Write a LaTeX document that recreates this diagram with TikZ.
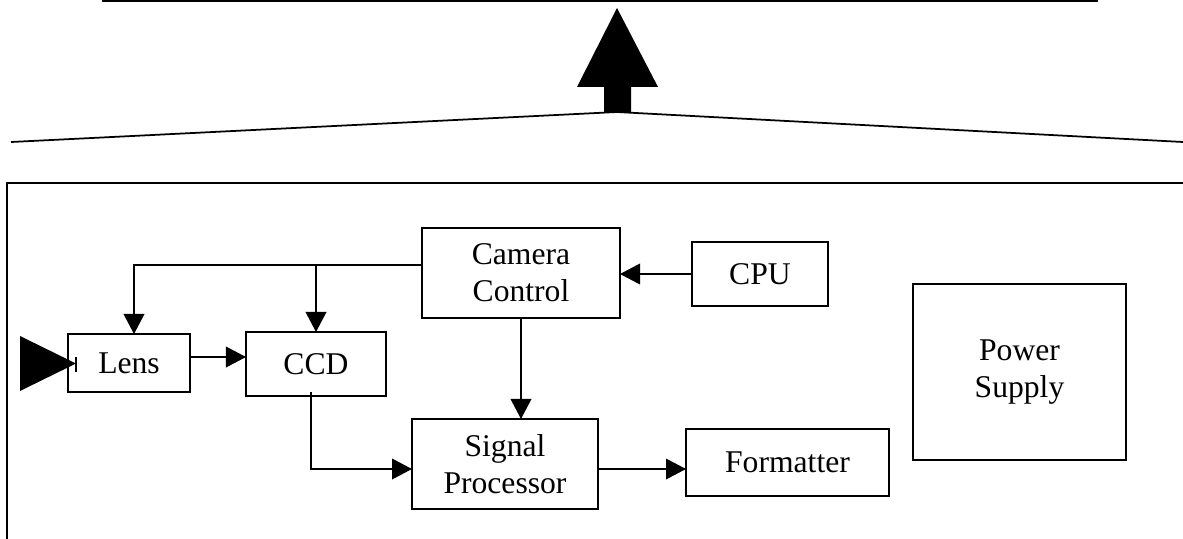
\documentclass[tikz,border=0pt]{standalone}
\usepackage{fontspec}
\setmainfont{Liberation Serif}
\usetikzlibrary{arrows.meta}
\newcommand{\blockfont}{\fontsize{27}{31.5}\selectfont}
\tikzset{
  block/.style={draw, line width=1.3pt, inner sep=0pt, outer sep=0pt, align=center, font=\blockfont},
  feed/.style={line width=1.2pt, -{Triangle[length=0.6cm,width=0.62cm]}}
}
\begin{document}
\begin{tikzpicture}[x=0.03cm, y=-0.03cm]
\useasboundingbox (0,0) rectangle (1183,539);
% Roof and upward arrow
\draw[line width=1.5pt] (102,1) -- (1098,1);
\fill (617,8) -- (658,87) -- (631,87) -- (631,112) -- (604,112) -- (604,87) -- (577,87) -- cycle;
\draw[line width=1.5pt] (11,142) -- (617,112) -- (1183,142);
% Enclosure
\draw[line width=1.3pt] (7,539) -- (7,183) -- (1183,183);
% Blocks
\node[block, minimum width=3.66cm, minimum height=1.74cm] (lens) at (129,363) {Lens};
\node[block, minimum width=4.2cm, minimum height=1.92cm] (ccd) at (316,364) {CCD};
\node[block, minimum width=5.94cm, minimum height=2.7cm] (cam) at (521,273) {Camera\\Control};
\node[block, minimum width=4.08cm, minimum height=1.92cm] (cpu) at (760,274) {CPU};
\node[block, minimum width=5.58cm, minimum height=2.7cm] (sig) at (505,464) {Signal\\Processor};
\node[block, minimum width=6.09cm, minimum height=2.01cm] (fmt) at (787.5,462.5) {Formatter};
\node[block, minimum width=6.39cm, minimum height=5.28cm] (pwr) at (1019.5,372) {Power\\Supply};
% Light input
\fill (20,336) -- (76,363.5) -- (20,391) -- cycle;
\draw[line width=1.2pt] (76,357) -- (76,372);
% Control lines
\coordinate (split) at (134,265);
\draw[feed] (cam.west |- split) -- (split) -- (split |- lens.north);
\draw[feed] (ccd.north |- split) -- (ccd.north);
\draw[feed] (cpu.west) -- (cam.east |- cpu.west);
\draw[feed] (cam.south) -- (cam.south |- sig.north);
% Signal path
\coordinate (ccdout) at (311,392);
\coordinate (sigin) at (311,469);
\draw[feed] (lens.east |- 0,357) -- (ccd.west |- 0,357);
\draw[feed] (ccdout) -- (sigin) -- (sig.west |- sigin);
\draw[feed] (sig.east |- sigin) -- (fmt.west |- sigin);
\end{tikzpicture}
\end{document}
